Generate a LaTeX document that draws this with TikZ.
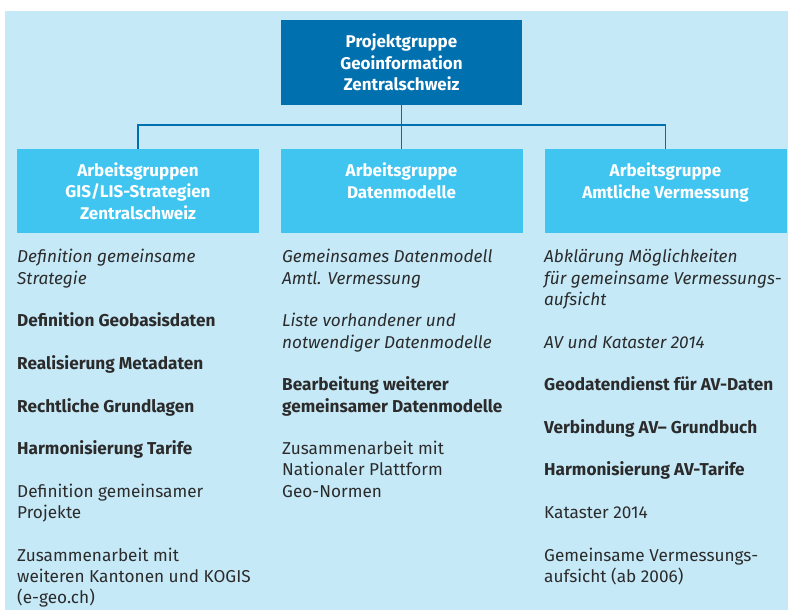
\documentclass[tikz,border=0pt]{standalone}
\usepackage{fontspec}
\setmainfont{Fira Sans}
\definecolor{bgblue}{HTML}{C6E9F8}
\definecolor{topblue}{HTML}{0070AF}
\definecolor{childblue}{HTML}{40C5F1}
\definecolor{txtgray}{HTML}{2B2B2B}
\newcommand{\bodyfont}{\fontsize{17.2}{21.3}\selectfont}
\newcommand{\headfont}{\fontsize{17}{21.4}\selectfont\bfseries}
\newcommand{\itm}[5]{\node[bodytext,#4] (#1) at (#2,{262.7+21.3*#3-14.91}) {\strut #5};}
\begin{document}
\begin{tikzpicture}[x=1pt,y=-1pt,
  bodytext/.style={anchor=north west,inner sep=0pt,align=left,font=\bodyfont,text=txtgray},
  it/.style={font=\bodyfont\itshape},
  bf/.style={font=\bodyfont\bfseries},
  topbox/.style={fill=topblue,text=white,minimum width=241pt,minimum height=85pt,inner sep=0pt,align=center,font=\headfont},
  childbox/.style={fill=childblue,text=white,minimum width=242pt,minimum height=84pt,inner sep=0pt,align=center,font=\headfont,anchor=north},
  conn/.style={draw=topblue,line width=1.6pt}]
\useasboundingbox (0,0) rectangle (788,610);
\fill[bgblue] (5,11) rectangle (788,610);
\node[topbox] (top) at (401.5,62.5) {Projektgruppe\\Geoinformation\\Zentralschweiz};
\node[childbox] (c1) at (138,149) {Arbeitsgruppen\\GIS/LIS-Strategien\\Zentralschweiz};
\node[childbox] (c2) at (401.5,149) {Arbeitsgruppe\\Datenmodelle\\\mbox{}};
\node[childbox] (c3) at (665.5,149) {Arbeitsgruppe\\Amtliche Vermessung\\\mbox{}};
\coordinate (j) at (401.5,125);
\draw[conn] (top.south) -- (j);
\draw[conn] (j) -| (c1.north);
\draw[conn] (j) -| (c3.north);
\draw[conn] (j) -- (c2.north);
% left column
\itm{a1}{17}{0}{it}{Definition gemeinsame\\Strategie}
\itm{a2}{17}{3}{bf}{Definition Geobasisdaten}
\itm{a3}{17}{5}{bf}{Realisierung Metadaten}
\itm{a4}{17}{7}{bf}{Rechtliche Grundlagen}
\itm{a5}{17}{9}{bf}{Harmonisierung Tarife}
\itm{a6}{17}{11}{}{Definition gemeinsamer\\Projekte}
\itm{a7}{17}{14}{}{Zusammenarbeit mit\\weiteren Kantonen und KOGIS\\(e-geo.ch)}
% middle column
\itm{b1}{282}{0}{it}{Gemeinsames Datenmodell\\Amtl. Vermessung}
\itm{b2}{282}{3}{it}{Liste vorhandener und\\notwendiger Datenmodelle}
\itm{b3}{282}{6}{bf}{Bearbeitung weiterer\\gemeinsamer Datenmodelle}
\itm{b4}{282}{9}{}{Zusammenarbeit mit\\Nationaler Plattform\\Geo-Normen}
% right column
\itm{r1}{544}{0}{it}{Abklärung Möglichkeiten\\für gemeinsame Vermessungs-\\aufsicht}
\itm{r2}{544}{4}{it}{AV und Kataster 2014}
\itm{r3}{544}{6}{bf}{Geodatendienst für AV-Daten}
\itm{r4}{544}{8}{bf}{Verbindung AV– Grundbuch}
\itm{r5}{544}{10}{bf}{Harmonisierung AV-Tarife}
\itm{r6}{544}{12}{}{Kataster 2014}
\itm{r7}{544}{14}{}{Gemeinsame Vermessungs-\\aufsicht (ab 2006)}
\end{tikzpicture}
\end{document}
